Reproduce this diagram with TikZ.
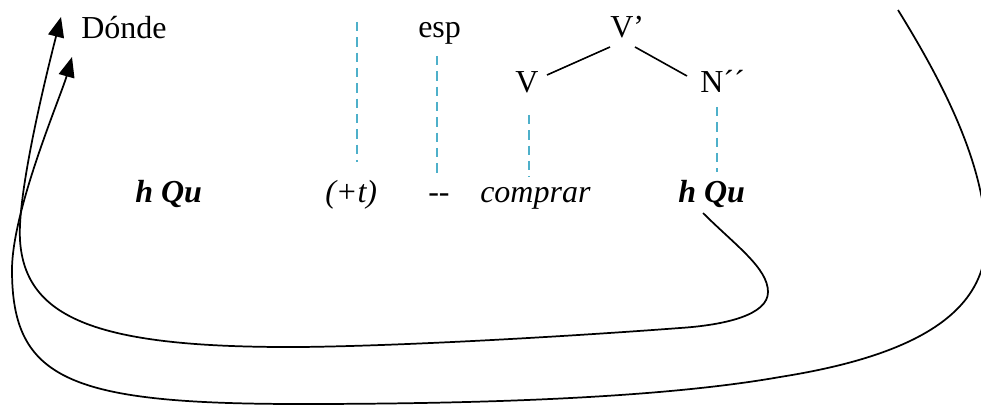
\documentclass[tikz,border=0pt]{standalone}
\usepackage{fontspec}
\setmainfont{Liberation Serif}
\usetikzlibrary{arrows.meta}
\definecolor{dashblue}{RGB}{78,176,202}
\begin{document}
\begin{tikzpicture}[x=0.75pt,y=-0.75pt,
  txt/.style={anchor=base west,inner sep=0pt,font=\fontsize{24}{28}\selectfont},
  curve/.style={line width=1.3pt},
  treeline/.style={line width=1.2pt},
  dashline/.style={draw=dashblue,line width=1.9pt,dash pattern=on 7pt off 4.5pt},
  tip/.style={-{Triangle[length=15pt,width=12pt]}}]
\useasboundingbox (0,0) rectangle (981,406);

% texts
\node[txt] (donde) at (81,39) {Dónde};
\node[txt] (esp) at (418,38) {esp};
\node[txt] (Vp) at (610,38) {V’};
\node[txt] (V) at (515,93) {V};
\node[txt] (N) at (700,93) {N´´};
\node[txt] (hqu1) at (135,202) {\textbf{\textit{h Qu}}};
\node[txt] (plust) at (325,202) {\textit{(+t)}};
\node[txt] (dd) at (428,202) {-{}-};
\node[txt] (comprar) at (480,202) {\textit{comprar}};
\node[txt] (hqu2) at (678,202) {\textbf{\textit{h Qu}}};

% tree branches
\coordinate (vpL) at (610,47);
\coordinate (vpR) at (635,47);
\coordinate (vR) at (547,75);
\coordinate (nL) at (687,76);
\draw[treeline] (vR) -- (vpL);
\draw[treeline] (vpR) -- (nL);

% dashed lines
\coordinate (d1t) at (357,22);  \coordinate (d1b) at (357,162);
\coordinate (d2t) at (437,56);  \coordinate (d2b) at (437,177);
\coordinate (d3t) at (529,115); \coordinate (d3b) at (529,177);
\coordinate (d4t) at (717,107); \coordinate (d4b) at (717,172);
\draw[dashline] (d1t) -- (d1b);
\draw[dashline] (d2t) -- (d2b);
\draw[dashline] (d3t) -- (d3b);
\draw[dashline] (d4t) -- (d4b);

% movement curves
\coordinate (a1) at (61,17);
\coordinate (a2) at (72,57);
\coordinate (s1) at (703,213);
\coordinate (s2) at (898,10);
\draw[curve,tip] (s1) .. controls (735,245) and (768,268) .. (768,292)
  .. controls (768,315) and (725,325) .. (680,328)
  .. controls (560,337) and (400,346) .. (300,347)
  .. controls (100,348) and (25,320) .. (20,240)
  .. controls (17,190) and (50,60) .. (a1);
\draw[curve,tip] (s2) .. controls (935,70) and (986,160) .. (986,240)
  .. controls (986,320) and (900,358) .. (780,377)
  .. controls (650,400) and (450,404) .. (300,404)
  .. controls (70,404) and (12,380) .. (12,270)
  .. controls (12,210) and (61,96) .. (a2);
\end{tikzpicture}
\end{document}
